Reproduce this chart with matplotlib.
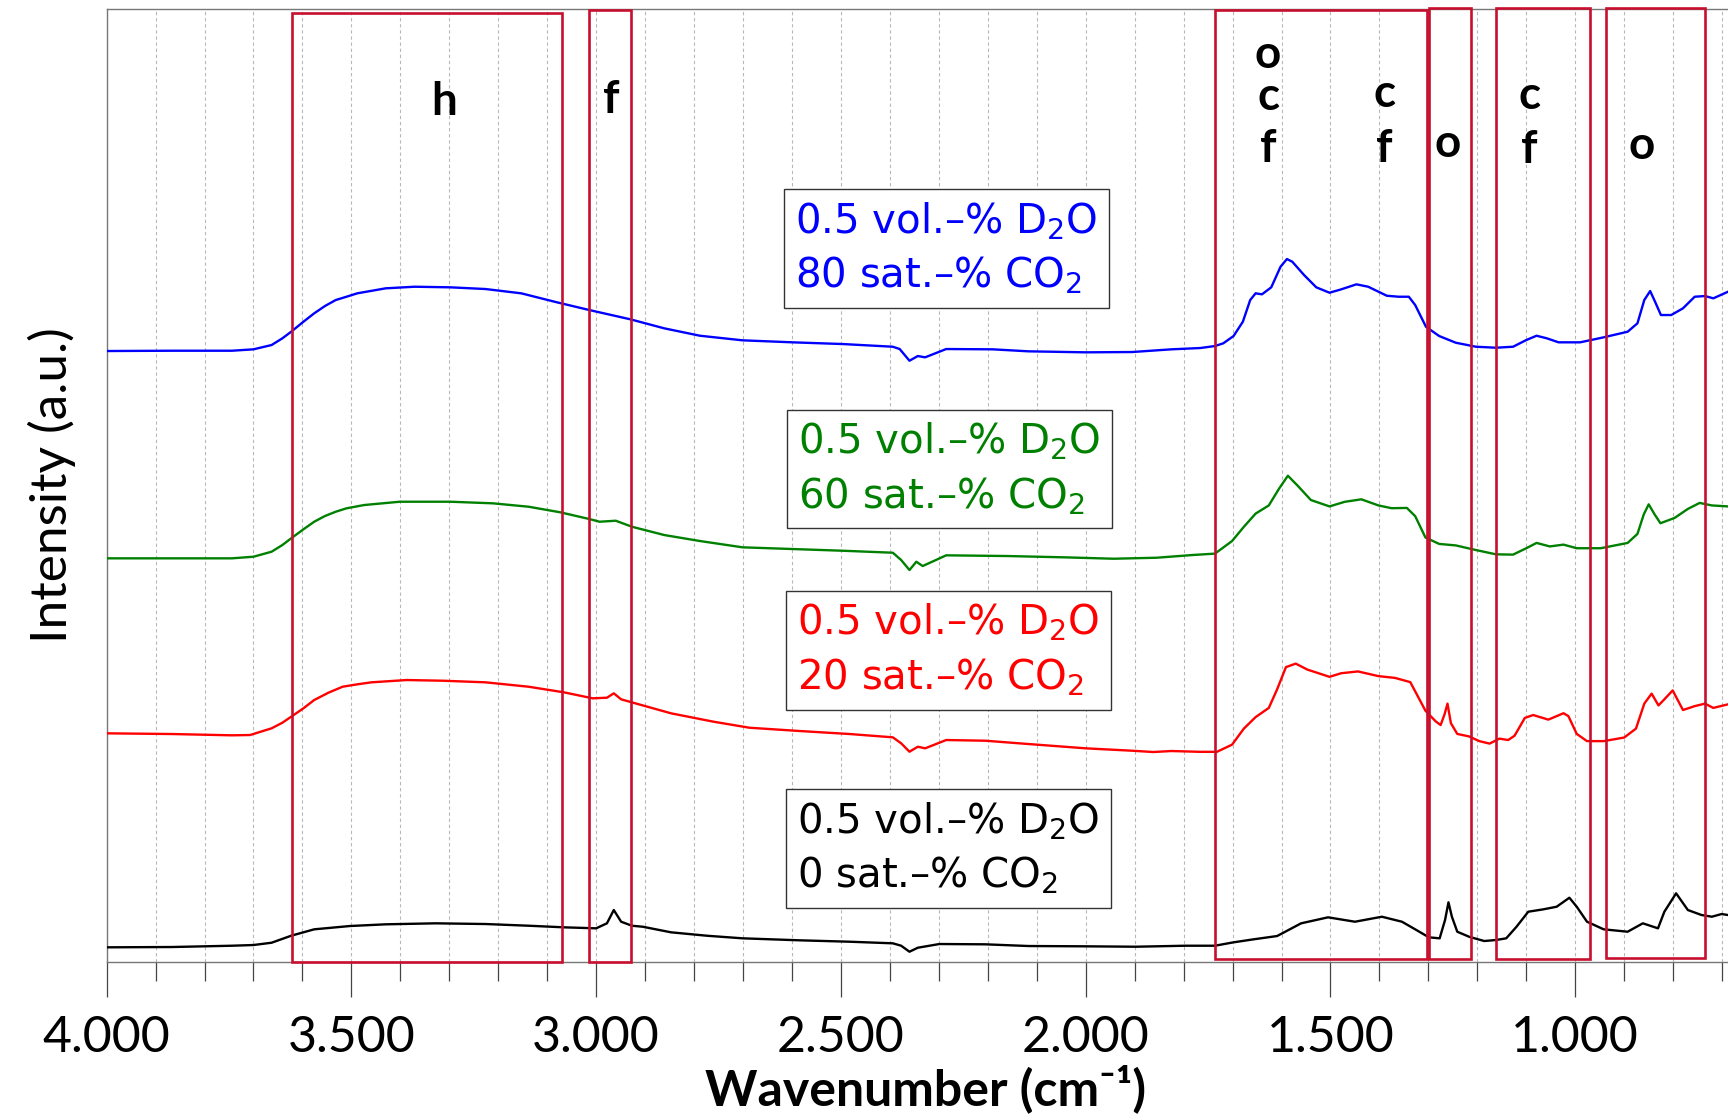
import matplotlib
matplotlib.use('Agg')
import matplotlib.pyplot as plt
from matplotlib.patches import Rectangle
from matplotlib.ticker import FixedLocator, FixedFormatter, MultipleLocator

plt.rcParams['font.family'] = ['Lato', 'DejaVu Sans']

# spectra: wavenumber (cm-1) and stacked intensity (a.u.)
wn_blue = [4000, 3867, 3744, 3700, 3663, 3641, 3623, 3598, 3576, 3554, 3532, 3510, 3488,
           3430, 3371, 3298, 3226, 3153, 3080, 3014, 2930, 2861, 2788, 2701, 2599, 2497,
           2394, 2380, 2360, 2343, 2328, 2285, 2190, 2117, 2000, 1905, 1825, 1766, 1736,
           1719, 1698, 1679, 1664, 1653, 1640, 1621, 1602, 1589, 1578, 1554, 1529, 1502,
           1478, 1447, 1423, 1385, 1361, 1340, 1327, 1305, 1278, 1244, 1203, 1162, 1127,
           1100, 1079, 1058, 1034, 990, 942, 893, 873, 859, 847, 837, 825, 804, 780, 756,
           735, 718, 688]
i_blue = [6.11, 6.113, 6.113, 6.127, 6.17, 6.237, 6.303, 6.403, 6.487, 6.56, 6.62, 6.653,
          6.687, 6.737, 6.753, 6.747, 6.73, 6.687, 6.597, 6.52, 6.427, 6.337, 6.263, 6.217,
          6.197, 6.18, 6.153, 6.13, 6.013, 6.06, 6.047, 6.13, 6.127, 6.107, 6.097, 6.10,
          6.127, 6.14, 6.16, 6.187, 6.26, 6.403, 6.62, 6.687, 6.677, 6.747, 6.953, 7.03,
          7.003, 6.87, 6.747, 6.693, 6.727, 6.777, 6.753, 6.663, 6.653, 6.653, 6.57, 6.353,
          6.26, 6.193, 6.153, 6.143, 6.153, 6.22, 6.263, 6.237, 6.197, 6.197, 6.247, 6.303,
          6.387, 6.62, 6.71, 6.603, 6.47, 6.47, 6.537, 6.653, 6.66, 6.637, 6.703]

wn_green = [4000, 3744, 3700, 3663, 3641, 3623, 3598, 3576, 3554, 3532, 3510, 3474, 3401,
            3298, 3211, 3138, 3073, 3014, 2993, 2960, 2927, 2861, 2788, 2701, 2599, 2497,
            2394, 2377, 2360, 2346, 2333, 2285, 2161, 2044, 1943, 1855, 1782, 1736, 1701,
            1677, 1653, 1626, 1605, 1587, 1567, 1540, 1502, 1471, 1437, 1402, 1375, 1344,
            1327, 1306, 1278, 1244, 1203, 1162, 1127, 1100, 1079, 1052, 1024, 997, 948,
            893, 873, 860, 850, 838, 826, 797, 770, 746, 721, 688]
i_green = [4.037, 4.037, 4.053, 4.103, 4.17, 4.237, 4.327, 4.403, 4.46, 4.503, 4.537, 4.57,
           4.603, 4.603, 4.587, 4.553, 4.497, 4.43, 4.403, 4.413, 4.353, 4.27, 4.21, 4.147,
           4.13, 4.113, 4.093, 4.02, 3.92, 4.003, 3.96, 4.067, 4.06, 4.047, 4.033, 4.043,
           4.07, 4.084, 4.21, 4.352, 4.484, 4.566, 4.734, 4.863, 4.763, 4.62, 4.556, 4.602,
           4.627, 4.566, 4.538, 4.541, 4.459, 4.245, 4.181, 4.166, 4.12, 4.077, 4.074,
           4.138, 4.191, 4.156, 4.174, 4.138, 4.138, 4.191, 4.281, 4.477, 4.577, 4.477,
           4.388, 4.441, 4.531, 4.591, 4.566, 4.556]

wn_red = [4000, 3867, 3744, 3707, 3663, 3641, 3623, 3598, 3576, 3547, 3518, 3488, 3459,
          3387, 3313, 3226, 3138, 3066, 3007, 2978, 2964, 2949, 2920, 2847, 2760, 2687,
          2584, 2482, 2394, 2377, 2360, 2343, 2328, 2285, 2205, 2117, 2000, 1905, 1862,
          1825, 1767, 1732, 1701, 1677, 1653, 1626, 1609, 1591, 1571, 1547, 1502, 1478,
          1444, 1402, 1368, 1337, 1306, 1285, 1275, 1267, 1261, 1254, 1241, 1217, 1196,
          1175, 1155, 1137, 1124, 1103, 1086, 1055, 1024, 1014, 997, 976, 942, 900, 876,
          859, 844, 830, 818, 801, 780, 756, 735, 718, 688]
i_red = [2.287, 2.28, 2.267, 2.27, 2.337, 2.393, 2.453, 2.537, 2.62, 2.693, 2.753, 2.777,
         2.797, 2.82, 2.813, 2.797, 2.753, 2.697, 2.637, 2.643, 2.687, 2.627, 2.587, 2.487,
         2.403, 2.343, 2.31, 2.28, 2.247, 2.187, 2.103, 2.153, 2.137, 2.22, 2.213, 2.18,
         2.137, 2.113, 2.10, 2.11, 2.102, 2.102, 2.174, 2.334, 2.449, 2.541, 2.727, 2.949,
         2.984, 2.924, 2.852, 2.888, 2.906, 2.859, 2.841, 2.799, 2.513, 2.406, 2.37, 2.477,
         2.584, 2.388, 2.281, 2.256, 2.209, 2.184, 2.234, 2.22, 2.263, 2.441, 2.47, 2.424,
         2.488, 2.459, 2.281, 2.209, 2.209, 2.245, 2.334, 2.584, 2.684, 2.566, 2.627,
         2.716, 2.52, 2.559, 2.584, 2.541, 2.577]

wn_black = [4000, 3867, 3744, 3700, 3663, 3623, 3576, 3503, 3430, 3328, 3226, 3138, 3066,
            3000, 2978, 2964, 2949, 2927, 2905, 2847, 2774, 2701, 2584, 2482, 2394, 2377,
            2360, 2343, 2299, 2205, 2117, 2000, 1898, 1796, 1736, 1698, 1657, 1609, 1560,
            1505, 1450, 1395, 1354, 1327, 1299, 1277, 1266, 1259, 1252, 1241, 1217, 1186,
            1162, 1141, 1120, 1096, 1065, 1038, 1012, 997, 976, 942, 893, 862, 831, 818,
            794, 770, 742, 721, 701, 688]
i_black = [0.147, 0.15, 0.163, 0.17, 0.193, 0.263, 0.327, 0.36, 0.377, 0.387, 0.38, 0.363,
           0.347, 0.337, 0.387, 0.52, 0.403, 0.363, 0.353, 0.297, 0.263, 0.237, 0.217,
           0.203, 0.187, 0.163, 0.103, 0.143, 0.18, 0.177, 0.16, 0.157, 0.153, 0.163,
           0.163, 0.197, 0.227, 0.26, 0.387, 0.447, 0.403, 0.453, 0.403, 0.327, 0.247,
           0.237, 0.42, 0.597, 0.453, 0.303, 0.253, 0.21, 0.22, 0.237, 0.353, 0.503, 0.527,
           0.553, 0.643, 0.553, 0.403, 0.327, 0.303, 0.387, 0.337, 0.503, 0.687, 0.52,
           0.47, 0.453, 0.48, 0.47]

series = [
    (wn_blue, i_blue, '#0000ff', '0.5 vol.\u2013% D$_2$O\n80 sat.\u2013% CO$_2$', 2285, 7.135),
    (wn_green, i_green, '#008000', '0.5 vol.\u2013% D$_2$O\n60 sat.\u2013% CO$_2$', 2279, 4.93),
    (wn_red, i_red, '#ff0000', '0.5 vol.\u2013% D$_2$O\n20 sat.\u2013% CO$_2$', 2281, 3.118),
    (wn_black, i_black, '#000000', '0.5 vol.\u2013% D$_2$O\n0 sat.\u2013% CO$_2$', 2280, 1.135),
]

# marked band regions (cm-1)
box_left = [3622, 3014, 1735, 1299, 1162, 938]
box_right = [3069, 2928, 1303, 1213, 969, 735]
box_bottom = [0.003, 0.003, 0.03, 0.03, 0.03, 0.037]
box_top = [9.49, 9.52, 9.52, 9.54, 9.54, 9.54]

# band assignment letters
band_text = ['h', 'f', 'o', 'c', 'f', 'c', 'f', 'o', 'c', 'f', 'o']
band_wn = [3311, 2969, 1628, 1627, 1627, 1390, 1390, 1261, 1093, 1093, 864]
band_y = [8.47, 8.49, 8.94, 8.52, 8.0, 8.553, 7.997, 8.053, 8.527, 7.987, 8.027]

xtick_pos = [4000, 3500, 3000, 2500, 2000, 1500, 1000]
xtick_labels = ['4.000', '3.500', '3.000', '2.500', '2.000', '1.500', '1.000']

fig = plt.figure(figsize=(17.28, 11.15), dpi=100)
ax = fig.add_axes([0.0617, 0.1372, 0.9383, 0.8547])
ax.set_xlim(4000, 688)
ax.set_ylim(0, 9.53)

for wn, inten, col, lab, tx, ty in series:
    ax.plot(wn, inten, color=col, lw=1.7, zorder=3)
    ax.text(tx, ty, lab, color=col, fontsize=29, family='DejaVu Sans',
            ha='center', va='center', multialignment='left', linespacing=1.4,
            zorder=5,
            bbox=dict(boxstyle='square,pad=0.28', fc='white', ec='#333333', lw=1.0))

for l, r, b, t in zip(box_left, box_right, box_bottom, box_top):
    ax.add_patch(Rectangle((l, b), r - l, t - b, fill=False, ec='#c8102e',
                           lw=1.9, zorder=4, clip_on=False))

for s, x, y in zip(band_text, band_wn, band_y):
    ax.text(x, y, s, fontsize=33, fontweight='bold', ha='center', va='baseline',
            color='black', zorder=5)

# axes styling
ax.xaxis.set_major_locator(FixedLocator(xtick_pos))
ax.xaxis.set_major_formatter(FixedFormatter(xtick_labels))
ax.xaxis.set_minor_locator(MultipleLocator(100))
ax.tick_params(axis='x', which='major', length=25, width=0.9, direction='out',
               pad=13, labelsize=36, color='#444444')
ax.tick_params(axis='x', which='minor', length=13.5, width=0.9, direction='out',
               color='#444444')
ax.tick_params(axis='y', left=False, labelleft=False)
ax.xaxis.grid(True, which='both', color='#b8b8b8', linestyle=(0, (3, 2.5)), lw=0.8)
ax.set_axisbelow(True)

for side in ['top', 'left', 'bottom']:
    ax.spines[side].set_color('#777777')
    ax.spines[side].set_linewidth(1.0)
ax.spines['right'].set_visible(False)

ax.set_xlabel('Wavenumber (cm\u207b\u00b9)', fontsize=36, fontweight='bold')
ax.xaxis.set_label_coords(0.505, -0.107)
ax.set_ylabel('Intensity (a.u.)', fontsize=37)
ax.yaxis.set_label_coords(-0.019, 0.5)

plt.savefig('out.png', dpi=100)
